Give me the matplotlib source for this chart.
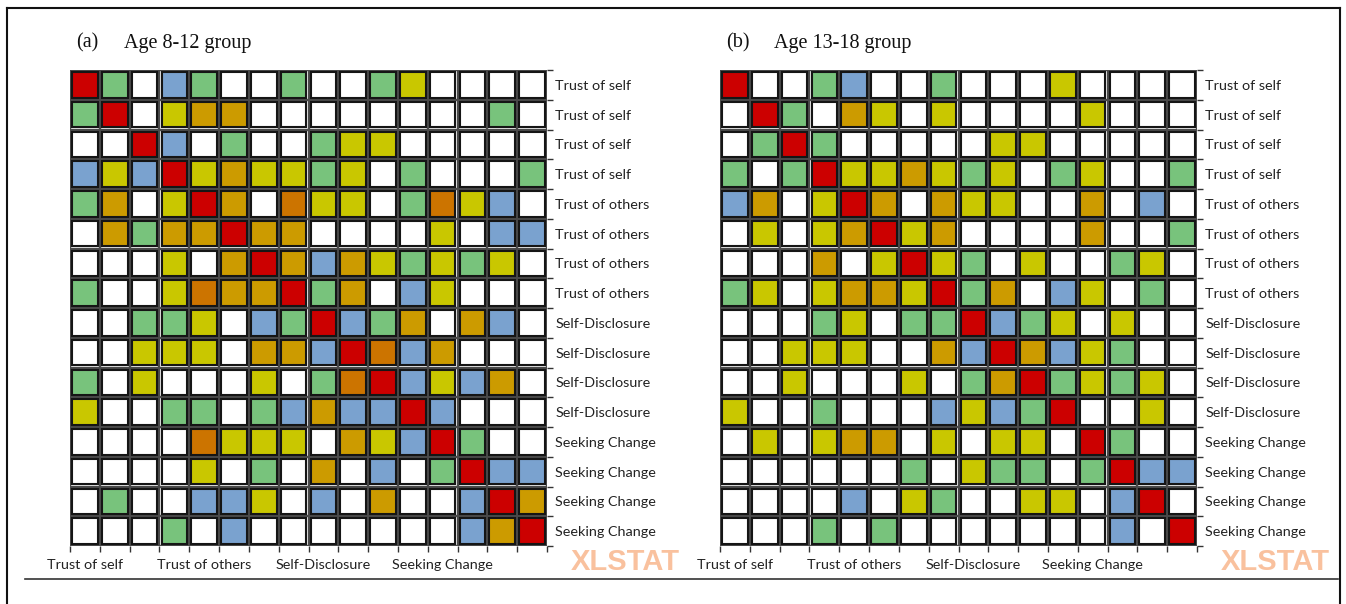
import matplotlib
matplotlib.use("Agg")
import matplotlib.pyplot as plt
from matplotlib.patches import Rectangle
from matplotlib.lines import Line2D

# Cell classes (one string per row, one letter per column)
# R = diagonal, G = green, B = blue, Y = yellow, O = gold, D = dark orange, W = empty
age_8_12 = [
    "RGWBGWWGWWGYWWWW",
    "GRWYOOWWWWWWWWGW",
    "WWRBWGWWGYYWWWWW",
    "BYBRYOYYGYWGWWWG",
    "GOWYROWDYYWGDYBW",
    "WOGOOROOWWWWYWBB",
    "WWWYWOROBOYGYGYW",
    "GWWYDOORGOWBYWWW",
    "WWGGYWBGRBGOWOBW",
    "WWYYYWOOBRDBOWWW",
    "GWYWWWYWGDRBYBOW",
    "YWWGGWGBOBBRBWWW",
    "WWWWDYYYWOYBRGWW",
    "WWWWYWGWOWBWGRBB",
    "WGWWBBYWBWOWWBRO",
    "WWWGWBWWWWWWWBOR",
]

age_13_18 = [
    "RWWGBWWGWWWYWWWW",
    "WRGWOYWYWWWWYWWW",
    "WGRGWWWWWYYWWWWW",
    "GWGRYYOYGYWGYWWG",
    "BOWYROWOYYWWOWBW",
    "WYWYORYOWWWWOWWG",
    "WWWOWYRYGWYWWGYW",
    "GYWYOOYRGOWBYWGW",
    "WWWGYWGGRBGYWYWW",
    "WWYYYWWOBROBYGWW",
    "WWYWWWYWGORGYGYW",
    "YWWGWWWBYBGRWWYW",
    "WYWYOOWYWYYWRGWW",
    "WWWWWWGWYGGWGRBB",
    "WWWWBWYGWWYYWBRW",
    "WWWGWGWWWWWWWBWR",
]

row_labels = ["Trust of self"] * 4 + ["Trust of others"] * 4 + \
             ["Self-Disclosure"] * 4 + ["Seeking Change"] * 4
group_labels = ["Trust of self", "Trust of others", "Self-Disclosure", "Seeking Change"]
panel_tags = ["(a)", "(b)"]
panel_titles = ["Age 8-12 group", "Age 13-18 group"]

colors = {
    "R": "#cc0000",
    "G": "#78c37c",
    "B": "#7aa2cf",
    "Y": "#c9c700",
    "O": "#cc9b00",
    "D": "#cc7400",
    "W": "#ffffff",
}

fig = plt.figure(figsize=(13.46, 6.04), dpi=100)
W, H = 1346, 604

# outer frame of the scanned figure
fig.add_artist(Line2D([7 / W, 7 / W], [0, 1 - 8 / H], color="#111111", lw=1.5))
fig.add_artist(Line2D([7 / W, 1340 / W], [1 - 8 / H, 1 - 8 / H], color="#111111", lw=1.5))
fig.add_artist(Line2D([1340 / W, 1340 / W], [0, 1 - 8 / H], color="#111111", lw=1.5))
fig.add_artist(Line2D([25 / W, 1338 / W], [1 - 579 / H, 1 - 579 / H], color="#333333", lw=1.2))


def draw_panel(left_px, matrix, tag, title):
    ax = fig.add_axes([left_px / W, 1 - 546 / H, 477 / W, 476 / H])
    n = len(matrix)
    for i, row in enumerate(matrix):
        for j, code in enumerate(row):
            ax.add_patch(Rectangle((j - 0.43, i - 0.43), 0.86, 0.86,
                                   facecolor=colors[code], edgecolor="#151515",
                                   lw=1.5, zorder=3))
    for k in range(n + 1):
        ax.axvline(k - 0.5, color="#4a4a4a", lw=1.7, zorder=2)
        ax.axhline(k - 0.5, color="#4a4a4a", lw=1.7, zorder=2)
    ax.set_xlim(-0.5, n - 0.5)
    ax.set_ylim(n - 0.5, -0.5)
    for s in ax.spines.values():
        s.set_visible(False)

    ax.yaxis.tick_right()
    ax.set_yticks(range(n))
    ax.set_yticklabels(row_labels, fontsize=10.4, family="Lato", color="#222222")
    ax.tick_params(axis="y", length=0, pad=6)
    ax.set_yticks([k - 0.5 for k in range(n + 1)], minor=True)
    ax.tick_params(axis="y", which="minor", length=4, color="#333333", width=1)
    ax.set_xticks([])
    ax.set_xticks([k - 0.5 for k in range(n + 1)], minor=True)
    ax.tick_params(axis="x", which="minor", length=4, color="#333333", width=1)

    for g, lab in enumerate(group_labels):
        ax.text(g * 4, n - 0.05, lab, ha="center", va="top", fontsize=10.4,
                family="Lato", color="#222222")
    ax.text(n + 0.3, n - 0.42, "XLSTAT", ha="left", va="top", fontsize=21,
            fontweight="bold", family="Liberation Sans", color="#f9bb94", alpha=0.9)
    ax.text(-0.3, -1.08, tag, ha="left", va="bottom", fontsize=14.5,
            family="Liberation Serif", color="#111111")
    ax.text(1.31, -1.08, title, ha="left", va="bottom", fontsize=14.5,
            family="Liberation Serif", color="#111111")
    return ax


draw_panel(70, age_8_12, panel_tags[0], panel_titles[0])
draw_panel(720, age_13_18, panel_tags[1], panel_titles[1])

fig.savefig("out.png", dpi=100, facecolor="white")
